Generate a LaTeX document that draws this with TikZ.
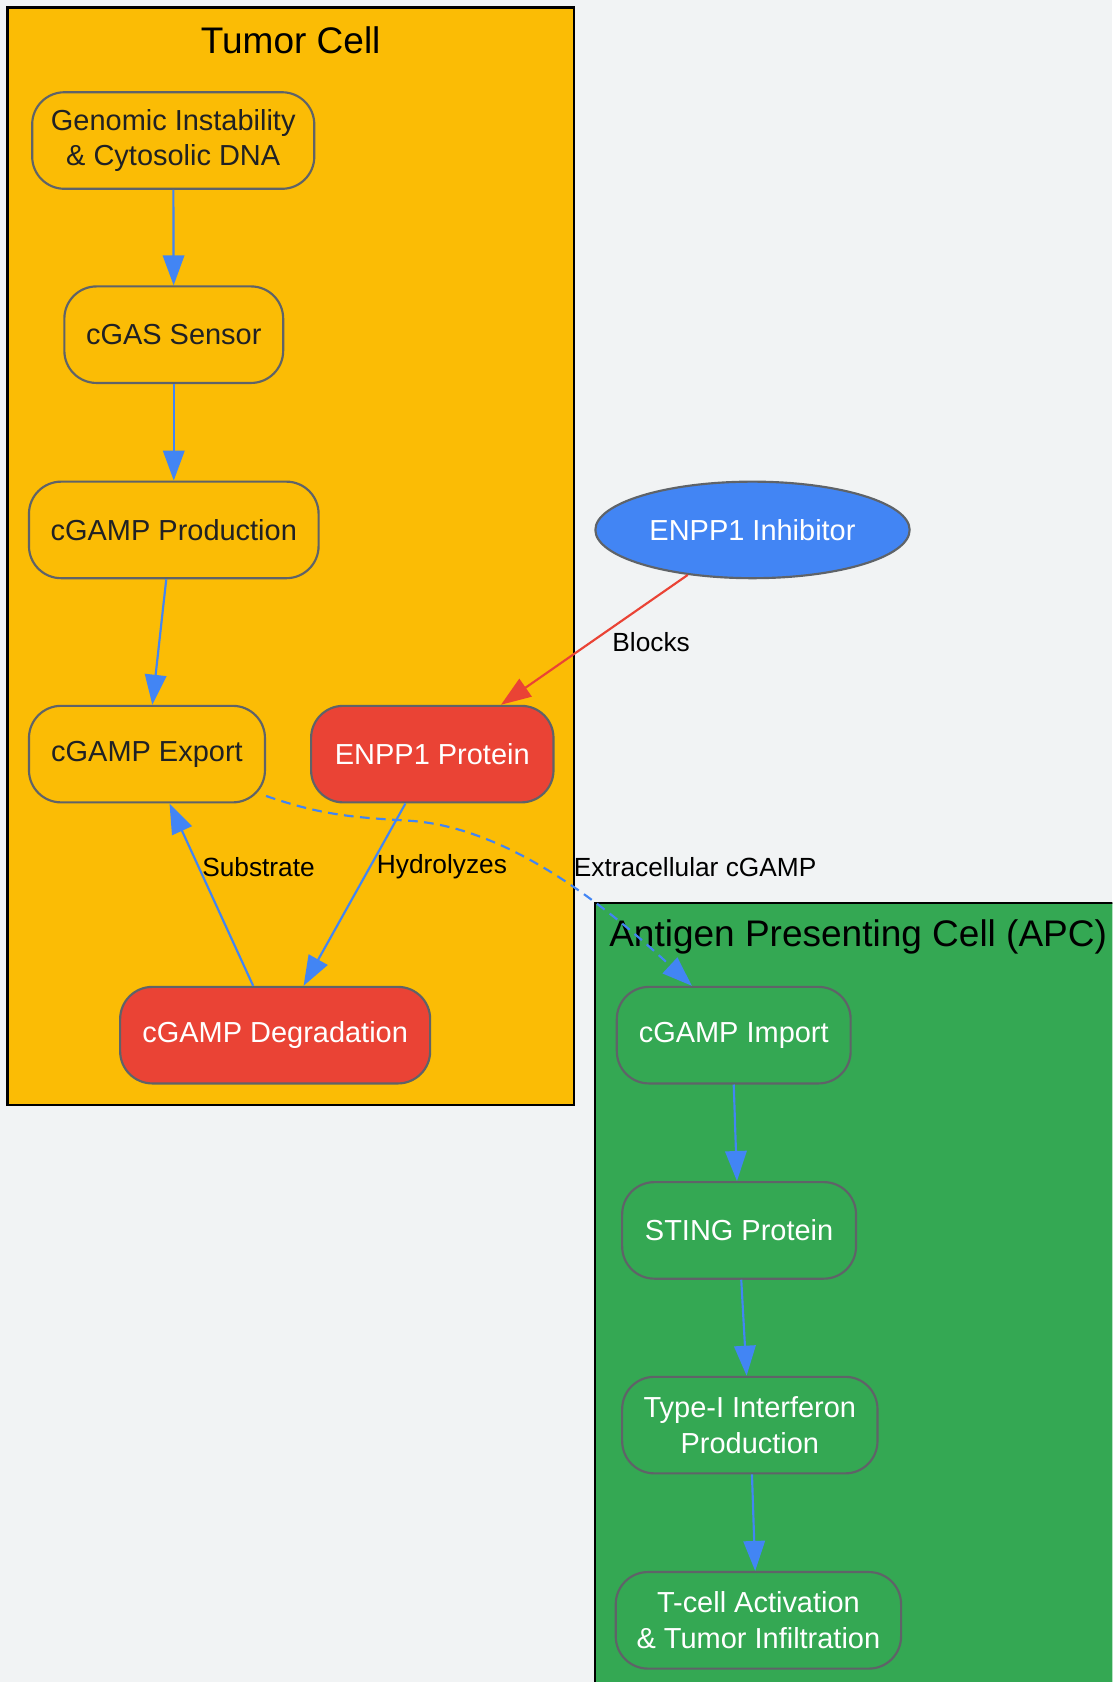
\documentclass[tikz,border=0pt]{standalone}
\usepackage{fontspec}
\setmainfont{Liberation Sans}
\usetikzlibrary{arrows.meta,shapes.geometric}

\definecolor{bgGrey}{HTML}{F1F3F4}
\definecolor{tumorYellow}{HTML}{FBBC05}
\definecolor{apcGreen}{HTML}{34A853}
\definecolor{enzRed}{HTML}{EA4335}
\definecolor{drugBlue}{HTML}{4285F4}
\definecolor{edgeGrey}{HTML}{5F6368}
\definecolor{darkText}{HTML}{202124}

\begin{document}
\begin{tikzpicture}[x=1pt, y=-1pt,
    proc node/.style={draw=edgeGrey, line width=2pt, rounded corners=30pt, minimum height=90pt, inner sep=0pt, align=center, font=\fontsize{27}{33.5}\selectfont},
    tumor node/.style={proc node, fill=tumorYellow, text=darkText},
    red node/.style={proc node, fill=enzRed, text=white},
    apc node/.style={proc node, fill=apcGreen, text=white},
    cluster/.style={draw=black, line width=2pt},
    title/.style={font=\fontsize{34.5}{40}\selectfont, text=black},
    edge label/.style={font=\fontsize{24.5}{28}\selectfont, text=black, inner sep=0pt},
    flow/.style={draw=drugBlue, line width=2pt, -{Triangle[length=28pt,width=20pt]}}]

    \useasboundingbox (0,0) rectangle (1037,1568);
    \fill[bgGrey] (0,0) rectangle (1037,1568);

    % Clusters
    \begin{scope}
        \clip (0,0) rectangle (1037,1568);
        \draw[cluster, fill=tumorYellow] (7,7) rectangle (535,1030);
        \draw[cluster, fill=apcGreen] (555,842) rectangle (1045,1580);
    \end{scope}
    \node[title] (tumortitle) at (271,38) {Tumor Cell};
    \node[title] (apctitle) at (800,873) {Antigen Presenting Cell (APC)};

    % Tumor cell
    \node[tumor node, minimum width=263pt] (genomic) at (161.5,131) {Genomic Instability\\\& Cytosolic DNA};
    \node[tumor node, minimum width=204pt] (cgas) at (162,312) {cGAS Sensor};
    \node[tumor node, minimum width=270pt] (production) at (162,494) {cGAMP Production};
    \node[tumor node, minimum width=220pt] (export) at (137,703) {cGAMP Export};
    \node[red node, minimum width=226pt] (enpp) at (403,703) {ENPP1 Protein};
    \node[red node, minimum width=289pt] (degradation) at (256.5,965) {cGAMP Degradation};

    % Drug
    \node[ellipse, draw=edgeGrey, line width=2pt, fill=drugBlue, text=white, minimum width=293pt, minimum height=90pt, inner sep=0pt, font=\fontsize{27}{33.5}\selectfont] (inhibitor) at (701.5,494) {ENPP1 Inhibitor};

    % APC
    \node[apc node, minimum width=218pt] (import) at (684,965) {cGAMP Import};
    \node[apc node, minimum width=218pt] (sting) at (689,1147) {STING Protein};
    \node[apc node, minimum width=238pt] (interferon) at (699,1328.5) {Type-I Interferon\\Production};
    \node[apc node, minimum width=266pt] (tcell) at (707,1510.5) {T-cell Activation\\\& Tumor Infiltration};

    \draw[flow] (genomic) -- (cgas);
    \draw[flow] (cgas) -- (production);
    \draw[flow] ([xshift=-7pt]production.south) -- ([xshift=5pt]export.north);
    \draw[flow] ([xshift=-20.5pt]degradation.north) -- ([xshift=21pt]export.south);
    \draw[flow] ([xshift=-25pt]enpp.south) -- ([xshift=26.5pt]degradation.north);
    \draw[flow, draw=enzRed, -{Triangle[length=28pt,width=20pt]}] (inhibitor) -- ([xshift=64pt]enpp.north);
    \draw[flow, dashed, dash pattern=on 9pt off 6pt] ([yshift=7pt]export.south east) .. controls (300,760) and (330,762) .. (380,765) .. controls (470,770) and (560,840) .. ([xshift=-39pt]import.north);
    \draw[flow] (import.south) -- ([xshift=-2pt]sting.north);
    \draw[flow] ([xshift=2pt]sting.south) -- ([xshift=-3pt]interferon.north);
    \draw[flow] ([xshift=2pt]interferon.south) -- ([xshift=-3pt]tcell.north);

    % Edge labels
    \node[edge label] (lblsubstrate) at (241,808) {Substrate};
    \node[edge label] (lblhydrolyzes) at (412,808) {Hydrolyzes};
    \node[edge label] (lblblocks) at (607,599) {Blocks};
    \node[edge label] (lblextra) at (648,808) {Extracellular cGAMP};

\end{tikzpicture}
\end{document}
